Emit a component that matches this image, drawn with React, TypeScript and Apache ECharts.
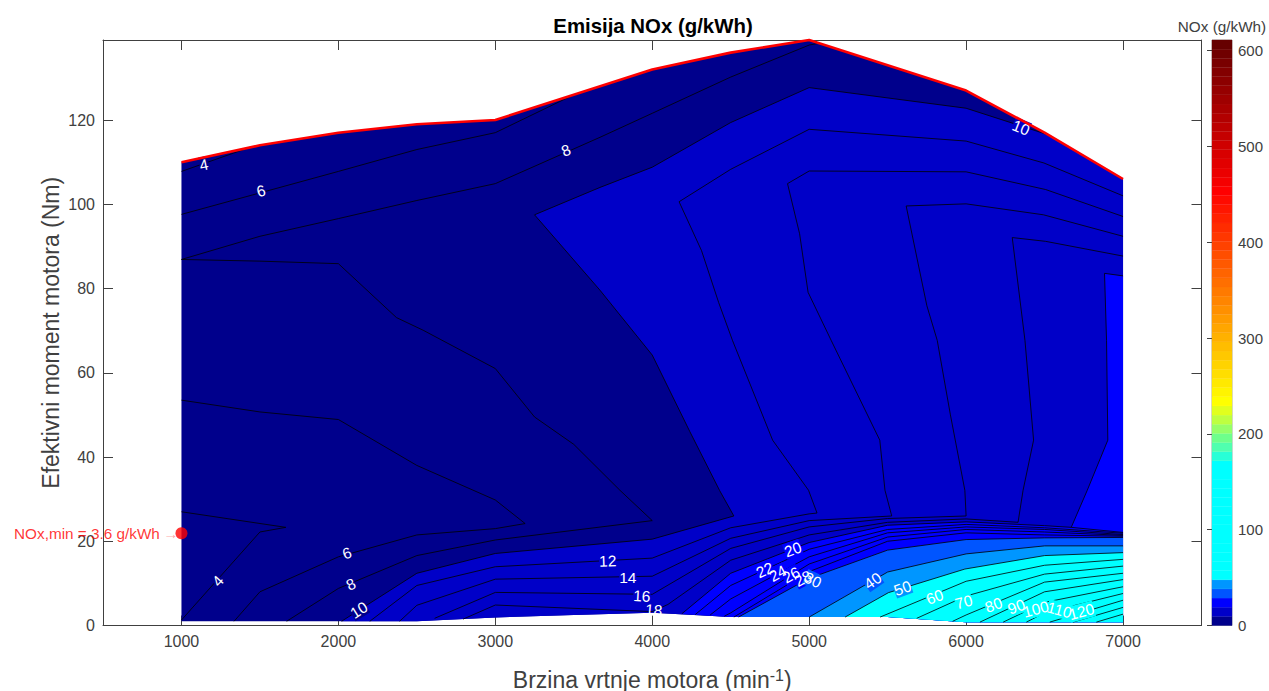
import React, { useEffect, useRef } from "react";
import * as echarts from "echarts";

const FONT = "'Liberation Sans', Arial, sans-serif";
const xTicks = [1000, 2000, 3000, 4000, 5000, 6000, 7000];
const yTicks = [0, 20, 40, 60, 80, 100, 120];
const barTicks = [0, 100, 200, 300, 400, 500, 600];
const barMax = 611;

const topEdge = [[1000,110],[1500,114],[2000,117],[2500,119],[3000,120],[4000,132],[4500,136],[5000,139],[6000,127],[6500,117],[7000,106]];
const bottomEdge = [[7000,0.8],[6500,0.8],[6000,0.8],[5500,2],[5000,2],[4500,2],[4000,3],[3500,2.5],[3000,1.9],[2500,1],[2000,1],[1500,1],[1000,1]];

const line10 = [[2020,1],[2500,12.4],[3000,17.1],[4000,20.5],[4520,26],[4430,32],[4240,46],[4000,64.2],[3667,79.6],[3250,97.5],[3667,104],[4000,108.8],[4500,119.4],[5000,127.7],[6000,122.8],[6300,119.2],[6530,116.4]];
const line20 = [[4189,2.8],[4500,12.4],[5000,19.7],[5500,23.8],[6000,24.6],[6500,23.7],[6670,23.3],[6772,32.1],[6903,44],[6895,67.7],[6882,83.6],[7000,83]];
const line30 = [[4550,2],[4921,9.6],[5000,11.2],[5500,17.9],[6000,20.4],[6500,20.8],[7000,20.9]];
const line40 = [[5000,2],[5500,12.7],[6000,17],[6500,18.9],[7000,18.9]];
const line50 = [[5229,2],[5505,7.8],[5992,13.4],[6500,16.6],[7000,17.3]];

const otherLines = [
  [[1000,107.8],[1450,113.7]],
  [[1000,1.3],[1500,22.2],[1665,23.3],[1000,27]],
  [[1000,97.6],[2000,107.8],[2500,113],[3000,117],[3500,126]],
  [[1000,53.5],[1500,50.7],[2000,48.9],[2500,38],[3000,29.8],[3190,24.2],[3000,23],[2500,21.5],[2000,16.3],[1500,8],[1335,1]],
  [[1000,86.9],[1500,92.4],[2000,96.6],[2500,100.9],[3000,104.9],[3667,115.9],[4000,121.6],[4500,130.2],[5000,137.8],[5060,138.2]],
  [[1000,86.9],[1500,86.5],[2000,85.9],[2370,73.1],[2540,70.1],[3000,61],[3250,49.5],[3500,43],[3794,32.1],[4000,24.9],[3000,20.3],[2500,16.6],[2000,8.8],[1670,1]],
  [[2200,1],[2500,9.5],[3000,13.95],[4000,16],[4500,23.2],[5000,26.5],[5050,26.7],[4996,32.1],[4767,44],[4511,67.7],[4423,76.7],[4314,89],[4171,100.6],[4500,108.3],[5000,117.8],[6000,115],[6496,109.8],[7000,102]],
  [[2390,1],[2500,4.8],[3000,11],[4000,11.7],[4500,20.7],[5000,24.9],[5526,26],[5483,32.1],[5450,44],[5140,67.7],[4993,79.1],[4939,93],[4862,104.9],[5000,107.9],[6000,107.7],[6507,103.5],[7000,97.1]],
  [[2613,1.7],[3000,7.86],[4000,7.4],[4500,18.3],[5000,23.4],[5500,25.4],[6000,26],[5992,32.1],[5900,50],[5816,67.7],[5750,75.9],[5618,99.6],[6000,100.1],[6493,97.5],[7000,92.4]],
  [[2794,1.5],[3000,4.86],[4000,3.3],[4100,5],[4500,15.5],[5000,21.5],[5500,24.5],[6000,25.3],[6331,24.5],[6363,32.1],[6430,44],[6375,67.7],[6294,92.1],[6507,91.2],[7000,87.7]],
  [[6670,23.3],[7000,22.1]],
  [[4274,2.6],[4500,9.5],[5000,18.1],[5500,22.8],[6000,24],[6500,23.2],[7000,21.9]],
  [[4369,2.5],[4500,6.3],[5000,16.3],[5500,22],[6000,23.4],[6500,22.8],[7000,21.6]],
  [[4459,2.2],[4500,3],[5000,14.6],[5500,21],[6000,22.8],[6500,22.2],[7000,21.4]],
  [[4520,2],[5000,12.8],[5500,20],[6000,22],[6500,21.5],[7000,21.2]],
  [[5452,2],[6000,10.5],[6500,14.3],[7000,15.7]],
  [[5685,1.7],[6000,7],[6500,12.2],[7000,14.1]],
  [[5914,1],[6000,2.5],[6500,10.3],[7000,12.4]],
  [[6088,0.8],[6500,8],[7000,10.9]],
  [[6236,0.8],[6500,5.5],[7000,9.2]],
  [[6384,0.8],[6500,3],[7000,7.6]],
  [[6533,0.8],[7000,6]],
  [[6681,0.8],[7000,4.3]],
  [[6830,0.8],[7000,2.7]],
];

const navy = "#00008c";
const blue1 = "#0000c8";
const blue2 = "#0000ff";
const azure = "#0055ff";
const sky = "#0096ff";
const cyan = "#00ffff";
const none = "rgba(0,0,0,0)";

// [text, rpm, torque, rotation in degrees, colour behind the label]
const contourLabels: [string, number, number, number, string][] = [
  ["4", 1143, 109.4, 12, navy],
  ["6", 1506, 103.2, 15, navy],
  ["8", 3450, 112.8, 22, navy],
  ["10", 6350, 118.2, -22, blue1],
  ["4", 1232, 10.6, 48, navy],
  ["6", 2054, 17.2, 20, navy],
  ["8", 2080, 9.8, 25, navy],
  ["10", 2130, 3.7, 32, navy],
  ["12", 3716, 15.3, 2, blue1],
  ["14", 3844, 11.3, 0, blue1],
  ["16", 3934, 7, -3, blue1],
  ["18", 4010, 3.7, -5, none],
  ["20", 4896, 18.1, 20, blue2],
  ["22", 4716, 13.2, 25, blue2],
  ["24", 4800, 12.4, 28, blue2],
  ["26", 4886, 12, 28, blue2],
  ["28", 4960, 11.2, 28, blue2],
  ["30", 5023, 10.8, -25, azure],
  ["40", 5405, 10.6, 35, azure],
  ["50", 5595, 8.9, 20, sky],
  ["60", 5800, 6.8, 20, cyan],
  ["70", 5985, 5.6, 15, cyan],
  ["80", 6175, 4.9, 20, cyan],
  ["90", 6320, 4.5, 20, cyan],
  ["100", 6445, 3.9, 15, cyan],
  ["110", 6595, 3.7, -15, cyan],
  ["120", 6735, 3.3, 15, cyan],
];

const barColors = [
  "#00008c","#0000c8","#0000ff","#0055ff","#0096ff",
  "#00ffff","#00ffff","#00ffff","#00ffff","#00ffff","#00ffff","#00ffff","#00ffff","#00ffff","#00ffff","#00ffff","#00ffff","#00ffff",
  "#28ffd7","#50ffaf","#6eff8c","#96ff69","#beff41","#e1ff1e",
  "#ffff00","#fff400","#ffe900","#ffde00","#ffd300","#ffc800","#ffbd00","#ffb100","#ffa600","#ff9b00","#ff9000","#ff8500",
  "#ff7a00","#ff6f00","#ff6400","#ff5900","#ff4e00","#ff4200","#ff3700","#ff2c00","#ff2100","#ff1600","#ff0b00","#ff0000",
  "#f50000","#eb0000","#e20000","#d80000","#cf0000","#c50000","#bc0000","#b20000","#a90000","#9f0000","#960000","#8c0000","#830000","#790000","#700000","#660000",
];

const minPoint = [1000, 21.9];

const fills: [number[][], string][] = [
  [[...topEdge, ...bottomEdge], navy],
  [[...line10, [7000,106], ...bottomEdge.slice(0, 10)], blue1],
  [[...line20, ...bottomEdge.slice(0, 6)], blue2],
  [[...line30, ...bottomEdge.slice(0, 5)], azure],
  [[...line40, ...bottomEdge.slice(0, 4)], sky],
  [[...line50, ...bottomEdge.slice(0, 4)], cyan],
];

const allLines = [line10, line20, line30, line40, line50, ...otherLines];

export default function App() {
  const ref = useRef<HTMLDivElement>(null);
  useEffect(() => {
    const chart = echarts.init(ref.current!, undefined, { renderer: "svg" });
    const tickColor = "#404040";
    const plain = (v: number) => String(v);
    const mainAxis = (show: boolean) => ({
      axisLine: { show: true, onZero: false, lineStyle: { color: tickColor, width: 1 } },
      axisTick: { show: true, inside: true, length: 10, lineStyle: { color: tickColor, width: 1 } },
      splitLine: { show: false },
      axisLabel: { show, color: tickColor, fontSize: 16, fontFamily: FONT, margin: 8, formatter: plain },
    });
    const withCustom = (base: any, values: number[]) => ({
      ...base,
      axisTick: { ...base.axisTick, customValues: values },
      axisLabel: { ...base.axisLabel, customValues: values },
    });
    const labelItem = (withText: boolean) => (_p: any, api: any) => {
      const [text, x, y, rot, bg] = contourLabels[api.value(0)];
      const c = api.coord([x, y]);
      return {
        type: "text", x: c[0], y: c[1], rotation: (rot * Math.PI) / 180,
        style: withText
          ? { text, fill: "#fff", font: `15.5px ${FONT}`, align: "center", verticalAlign: "middle" }
          : { text, fill: "rgba(0,0,0,0)", font: `15.5px ${FONT}`, align: "center", verticalAlign: "middle", backgroundColor: bg },
      };
    };
    chart.setOption({
      animation: false,
      backgroundColor: "#ffffff",
      title: [
        { text: "Emisija NOx (g/kWh)", left: 648, top: 11, textAlign: "center",
          textStyle: { fontFamily: FONT, fontSize: 20.4, fontWeight: "bold", color: "#000" } },
        { text: "NOx (g/kWh)", left: 1217, top: 14, textAlign: "center",
          textStyle: { fontFamily: FONT, fontSize: 15.3, fontWeight: "normal", color: tickColor } },
      ],
      grid: [
        { left: 103, top: 40, width: 1098.5, height: 585.5, outerBoundsMode: "none" },
        { left: 1212, top: 40, width: 20, height: 585.5, show: true, borderColor: "#555", borderWidth: 0.5, outerBoundsMode: "none" },
      ],
      xAxis: [
        { ...withCustom(mainAxis(true), xTicks), type: "value", gridIndex: 0, min: 500, max: 7500, position: "bottom",
          name: "{t|Brzina vrtnje motora (min}{s|-1}{t|)}", nameLocation: "middle", nameGap: 42,
          nameTextStyle: { fontFamily: FONT, fontSize: 23, color: tickColor, rich: {
            t: { fontFamily: FONT, fontSize: 23, color: tickColor },
            s: { fontFamily: FONT, fontSize: 16, color: tickColor, verticalAlign: "top", padding: [0, 0, 8, 0] },
          } } },
        { ...withCustom(mainAxis(false), xTicks), type: "value", gridIndex: 0, min: 500, max: 7500, position: "top" },
        { type: "value", gridIndex: 1, min: 0, max: 1, show: false },
      ],
      yAxis: [
        { ...withCustom(mainAxis(true), yTicks), type: "value", gridIndex: 0, min: 0, max: 139, position: "left",
          name: "Efektivni moment motora (Nm)", nameLocation: "middle", nameGap: 41, nameRotate: 90, nameMoveOverlap: false,
          nameTextStyle: { fontFamily: FONT, fontSize: 23, color: tickColor } },
        { ...withCustom(mainAxis(false), yTicks), type: "value", gridIndex: 0, min: 0, max: 139, position: "right" },
        { ...withCustom(mainAxis(true), barTicks), type: "value", gridIndex: 1, min: 0, max: barMax, position: "right",
          axisTick: { show: true, inside: true, length: 5, customValues: barTicks, lineStyle: { color: tickColor, width: 1 } },
          axisLine: { show: false },
          axisLabel: { show: true, color: tickColor, fontSize: 15, fontFamily: FONT, margin: 6, customValues: barTicks, formatter: plain } },
      ],
      series: [
        {
          type: "custom", xAxisIndex: 0, yAxisIndex: 0, clip: false, silent: true, z: 2,
          data: fills.map((_, i) => [i]),
          renderItem: (_p: any, api: any) => {
            const [pts, color] = fills[api.value(0)];
            return { type: "polygon", shape: { points: pts.map((p) => api.coord(p)) }, style: { fill: color } };
          },
        },
        ...allLines.map((pts) => ({
          type: "line", xAxisIndex: 0, yAxisIndex: 0, data: pts, showSymbol: false, silent: true, clip: false, z: 3,
          lineStyle: { color: "#000", width: 0.8 },
        })),
        {
          type: "custom", xAxisIndex: 0, yAxisIndex: 0, clip: false, silent: true, z: 4,
          data: contourLabels.map((_, i) => [i]),
          renderItem: labelItem(false),
        },
        {
          type: "custom", xAxisIndex: 0, yAxisIndex: 0, clip: false, silent: true, z: 5,
          data: contourLabels.map((_, i) => [i]),
          renderItem: labelItem(true),
        },
        {
          type: "line", xAxisIndex: 0, yAxisIndex: 0, data: topEdge, showSymbol: false, silent: true, clip: false, z: 6,
          lineStyle: { color: "#ff0000", width: 2.6 },
        },
        {
          type: "scatter", xAxisIndex: 0, yAxisIndex: 0, data: [minPoint], symbolSize: 12, clip: false, silent: true, z: 7,
          itemStyle: { color: "#ff0000" },
          label: {
            show: true, position: "left", distance: -3,
            formatter: "{t|NOx,min = 3.6 g/kWh} {a|→}",
            rich: {
              t: { fontFamily: FONT, fontSize: 15.3, color: "#ff0000" },
              a: { fontFamily: FONT, fontSize: 15.3, color: "#ff9090" },
            },
          },
        },
        {
          type: "custom", xAxisIndex: 2, yAxisIndex: 2, silent: true, z: 2,
          data: barColors.map((_, i) => [i]),
          renderItem: (_p: any, api: any) => {
            const i = api.value(0);
            const a = api.coord([0, ((i + 1) * barMax) / barColors.length]);
            const b = api.coord([1, (i * barMax) / barColors.length]);
            return { type: "rect", shape: { x: a[0], y: a[1], width: b[0] - a[0], height: b[1] - a[1] },
              style: { fill: barColors[i], stroke: barColors[i], lineWidth: 0.3 } };
          },
        },
      ],
    });
    return () => chart.dispose();
  }, []);
  return <div ref={ref} style={{ position: "absolute", left: 0, top: 0, width: 1269, height: 691 }} />;
}
